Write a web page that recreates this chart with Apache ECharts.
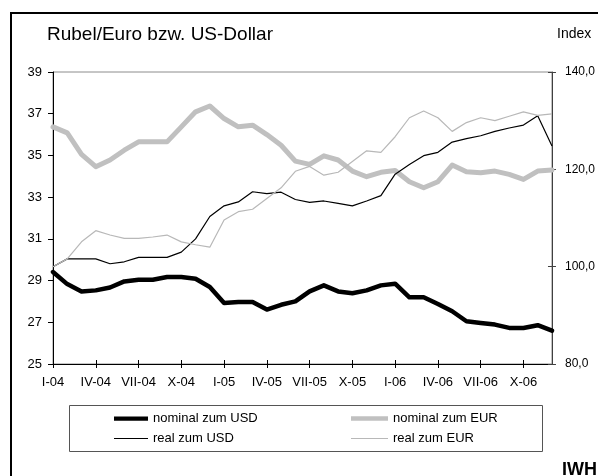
<!DOCTYPE html>
<html><head><meta charset="utf-8">
<script src="https://cdn.jsdelivr.net/npm/echarts@6/dist/echarts.min.js"></script>
<style>html,body{margin:0;padding:0;background:#fff}#c{width:598px;height:476px}</style>
</head><body><div id="c"></div>
<script>
const months = ['I-04','II-04','III-04','IV-04','V-04','VI-04','VII-04','VIII-04','IX-04','X-04','XI-04','XII-04',
  'I-05','II-05','III-05','IV-05','V-05','VI-05','VII-05','VIII-05','IX-05','X-05','XI-05','XII-05',
  'I-06','II-06','III-06','IV-06','V-06','VI-06','VII-06','VIII-06','IX-06','X-06','XI-06','XII-06'];
const nominalUSD = [29.41,28.83,28.48,28.53,28.67,28.96,29.04,29.04,29.17,29.17,29.09,28.69,
  27.92,27.97,27.97,27.61,27.84,28.0,28.48,28.77,28.48,28.39,28.53,28.77,
  28.85,28.2,28.2,27.88,27.53,27.05,26.97,26.89,26.73,26.73,26.86,26.6];
const nominalEUR = [36.37,36.08,35.05,34.46,34.78,35.25,35.65,35.65,35.65,36.37,37.09,37.37,
  36.77,36.37,36.45,36.0,35.49,34.73,34.57,34.98,34.78,34.25,33.98,34.19,
  34.28,33.74,33.45,33.74,34.54,34.22,34.17,34.25,34.09,33.85,34.25,34.3];
const realUSD = [100.0,101.6,101.6,101.6,100.6,101.0,101.9,101.9,101.9,103.0,105.7,110.3,
  112.5,113.3,115.4,115.0,115.3,113.8,113.2,113.5,113.0,112.5,113.5,114.6,
  119.0,121.0,122.8,123.5,125.6,126.3,126.9,127.8,128.5,129.1,131.0,124.8];
const realEUR = [100.0,101.6,105.1,107.4,106.5,105.8,105.8,106.1,106.5,105.1,104.5,104.0,
  109.6,111.3,111.8,114.0,116.2,119.6,120.6,118.8,119.4,121.6,123.8,123.5,
  126.7,130.6,132.0,130.6,127.8,129.6,130.6,130.0,130.9,131.8,131.1,131.4];
const leftTicks = [25,27,29,31,33,35,37,39];
const rightTicks = [80,100,120,140];
const seriesNames = ['nominal zum USD','nominal zum EUR','real zum USD','real zum EUR'];

const FONT = 'Liberation Sans, Arial, sans-serif';
const chart = echarts.init(document.getElementById('c'), null, {renderer:'canvas'});
const fmtRight = v => v.toFixed(1).replace('.', ',');
// legend icons: bars centred in a 12px-high box (extra moveTo points fix the box)
const thickIcon = 'path://M0,0 M40,12 M0,3.5 L40,3.5 L40,8.5 L0,8.5 Z';
const thinIcon = 'path://M0,0 M40,12 M0,5.4 L40,5.4 L40,6.6 L0,6.6 Z';

chart.setOption({
  animation: false,
  textStyle: {fontFamily: FONT, color: '#000'},
  title: [
    {text: 'Rubel/Euro bzw. US-Dollar', left: 47, top: 25, padding: 0,
     textStyle: {fontSize: 19, fontWeight: 'normal', color: '#000', fontFamily: FONT}},
    {text: 'Index', left: 557, top: 27, padding: 0,
     textStyle: {fontSize: 14, fontWeight: 'normal', color: '#000', fontFamily: FONT}}
  ],
  grid: {left: 53, right: 45, top: 72, bottom: 112, show: true, borderColor: '#8c8c8c', borderWidth: 1, backgroundColor: 'transparent'},
  legend: [
    {left: 114, top: 412, orient: 'vertical', itemWidth: 34, itemHeight: 12, itemGap: 7, padding: 0,
     data: [{name: seriesNames[0], icon: thickIcon}, {name: seriesNames[2], icon: thinIcon}],
     textStyle: {fontSize: 13, color: '#000', fontFamily: FONT}},
    {left: 351, top: 412, orient: 'vertical', itemWidth: 37, itemHeight: 12, itemGap: 7, padding: 0,
     data: [{name: seriesNames[1], icon: thickIcon}, {name: seriesNames[3], icon: thinIcon}],
     textStyle: {fontSize: 13, color: '#000', fontFamily: FONT}}
  ],
  xAxis: [
    {type: 'category', data: months, boundaryGap: false,
     axisLine: {lineStyle: {color: '#000', width: 1}},
     axisTick: {interval: 2, length: 4, lineStyle: {color: '#000'}},
     axisLabel: {interval: 2, margin: 12, fontSize: 13, color: '#000', fontFamily: FONT},
     splitLine: {show: false}},
    {type: 'category', data: months, boundaryGap: false, position: 'bottom',
     axisLine: {show: false},
     axisTick: {interval: 2, inside: true, length: 4, lineStyle: {color: '#000'}},
     axisLabel: {show: false}, splitLine: {show: false}}
  ],
  yAxis: [
    {type: 'value', min: 25, max: 39, position: 'left',
     axisLine: {show: true, lineStyle: {color: '#000'}},
     axisTick: {show: true, length: 5, customValues: leftTicks, lineStyle: {color: '#000'}},
     axisLabel: {customValues: leftTicks, margin: 11, fontSize: 13, color: '#000', fontFamily: FONT},
     splitLine: {show: false}},
    {type: 'value', min: 80, max: 140, interval: 20, position: 'right',
     axisLine: {show: true, lineStyle: {color: '#404040'}},
     axisTick: {show: true, length: 4, customValues: rightTicks, lineStyle: {color: '#404040'}},
     axisLabel: {customValues: rightTicks, margin: 13, fontSize: 12, color: '#000', fontFamily: FONT, formatter: fmtRight},
     splitLine: {show: false}},
    {type: 'value', min: 80, max: 140, interval: 20, position: 'right',
     axisLine: {show: false},
     axisTick: {show: true, inside: true, length: 4, customValues: rightTicks, lineStyle: {color: '#404040'}},
     axisLabel: {show: false}, splitLine: {show: false}}
  ],
  series: [
    {name: seriesNames[0], type: 'line', data: nominalUSD, yAxisIndex: 0, symbol: 'none',
     lineStyle: {color: '#000', width: 4.5, join: 'round', cap: 'round'}, itemStyle: {color: '#000'}},
    {name: seriesNames[1], type: 'line', data: nominalEUR, yAxisIndex: 0, symbol: 'none',
     lineStyle: {color: '#c0c0c0', width: 5, join: 'round', cap: 'round'}, itemStyle: {color: '#c0c0c0'}},
    {name: seriesNames[2], type: 'line', data: realUSD, yAxisIndex: 1, symbol: 'none',
     lineStyle: {color: '#000', width: 1.2}, itemStyle: {color: '#000'}},
    {name: seriesNames[3], type: 'line', data: realEUR, yAxisIndex: 1, symbol: 'none',
     lineStyle: {color: '#b8b8b8', width: 1.2}, itemStyle: {color: '#b8b8b8'}}
  ],
  graphic: [
    {type: 'line', shape: {x1: 11, y1: 13, x2: 598, y2: 13}, style: {stroke: '#000', lineWidth: 2}, silent: true},
    {type: 'line', shape: {x1: 11, y1: 12, x2: 11, y2: 476}, style: {stroke: '#000', lineWidth: 2}, silent: true},
    {type: 'rect', shape: {x: 69.5, y: 405.5, width: 473, height: 46}, style: {fill: 'none', stroke: '#555', lineWidth: 1}, silent: true},
    {type: 'text', left: 562, top: 461, style: {text: 'IWH', font: 'bold 18px Liberation Sans, Arial, sans-serif', fill: '#000'}, silent: true}
  ]
});
</script></body></html>
